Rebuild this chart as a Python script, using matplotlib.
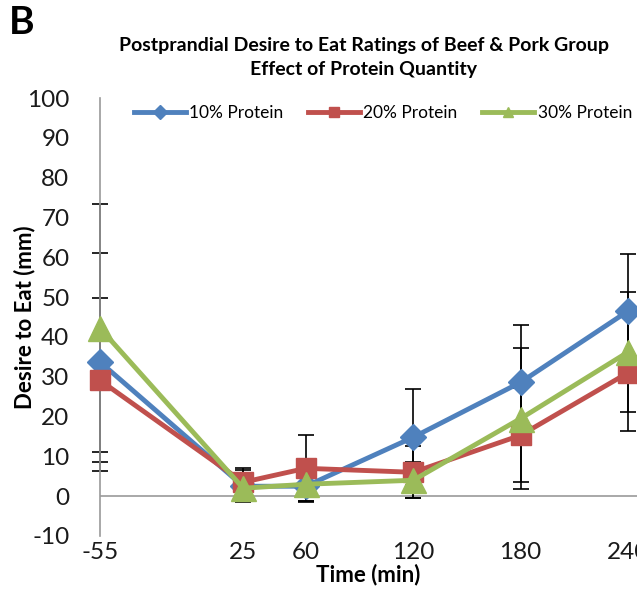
import matplotlib
matplotlib.use("Agg")
import matplotlib.pyplot as plt
from matplotlib.lines import Line2D

plt.rcParams['font.family'] = ['Lato', 'DejaVu Sans']
plt.rcParams['axes.unicode_minus'] = False

time = [-55, 25, 60, 120, 180, 240]
p10 = [33.7, 2.5, 2.5, 14.8, 28.6, 46.5]
p10_err = [27.4, 4.0, 4.0, 12.1, 14.4, 14.3]
p20 = [29.1, 3.5, 7.0, 6.0, 15.3, 31.0]
p20_err = [20.6, 3.5, 8.3, 6.5, 11.8, 14.7]
p30 = [42.2, 2.0, 3.0, 4.0, 19.5, 36.2]
p30_err = [31.2, 3.3, 4.3, 4.5, 17.7, 15.0]
labels = ['10% Protein', '20% Protein', '30% Protein']
colors = ['#4F81BD', '#C0504D', '#9BBB59']
markers = ['D', 's', '^']
msizes = [13, 15, 18]

fig = plt.figure(figsize=(6.37, 5.96), dpi=100)
ax = fig.add_axes([100/637, 1-536/596, 1-100/637, (536-98)/596])

series = [(p10, p10_err), (p20, p20_err), (p30, p30_err)]
for (vals, errs), c, m, ms in zip(series, colors, markers, msizes):
    eb = ax.errorbar(time, vals, yerr=errs, fmt='none', ecolor='black', elinewidth=1.2,
                     capsize=5.5, capthick=1.2, zorder=2)
    for art in eb.lines[1] + eb.lines[2]:
        art.set_clip_on(False)
for (vals, errs), c, m, ms in zip(series, colors, markers, msizes):
    ax.plot(time, vals, color=c, lw=3.5, marker=m, ms=ms, markeredgecolor=c,
            zorder=3, clip_on=False)

ax.axhline(0, color='#9a9a9a', lw=1.2, zorder=1)
ax.set_xlim(-55, 245)
ax.set_ylim(-10, 100)
ax.set_yticks(range(-10, 101, 10))
ax.set_xticks(time)
ax.set_xticklabels([str(t) for t in time])
for s in ['top', 'right', 'bottom']:
    ax.spines[s].set_visible(False)
ax.spines['left'].set_color('#9a9a9a')
ax.spines['left'].set_linewidth(1.2)
ax.tick_params(axis='both', length=0, labelsize=17.5, colors='#1a1a1a')
ax.tick_params(axis='y', pad=22)
ax.tick_params(axis='x', pad=4)
ax.set_xlabel('Time (min)', fontsize=16, fontweight='bold', labelpad=1)
ax.set_ylabel('Desire to Eat (mm)', fontsize=16, fontweight='bold', labelpad=-6)
ax.patch.set_alpha(0)

handles = [Line2D([], [], color=c, lw=3.5, marker=m, ms=7, markeredgecolor=c)
           for c, m in zip(colors, markers)]
leg = ax.legend(handles, labels, loc='center left', bbox_to_anchor=(0.05, 1 - (113-98)/438),
                ncol=3, frameon=False, fontsize=12.5, handlelength=3.0,
                handletextpad=0.2, columnspacing=1.4, borderaxespad=0)

fig.text(364/637, 1-45/596, 'Postprandial Desire to Eat Ratings of Beef & Pork Group',
         ha='center', va='center', fontsize=14, fontweight='bold')
fig.text(364/637, 1-70/596, 'Effect of Protein Quantity',
         ha='center', va='center', fontsize=14, fontweight='bold')
fig.text(9/637, 1-22/596, 'B', ha='left', va='center', fontsize=28, fontweight='bold')

fig.savefig('out.png', dpi=100)
